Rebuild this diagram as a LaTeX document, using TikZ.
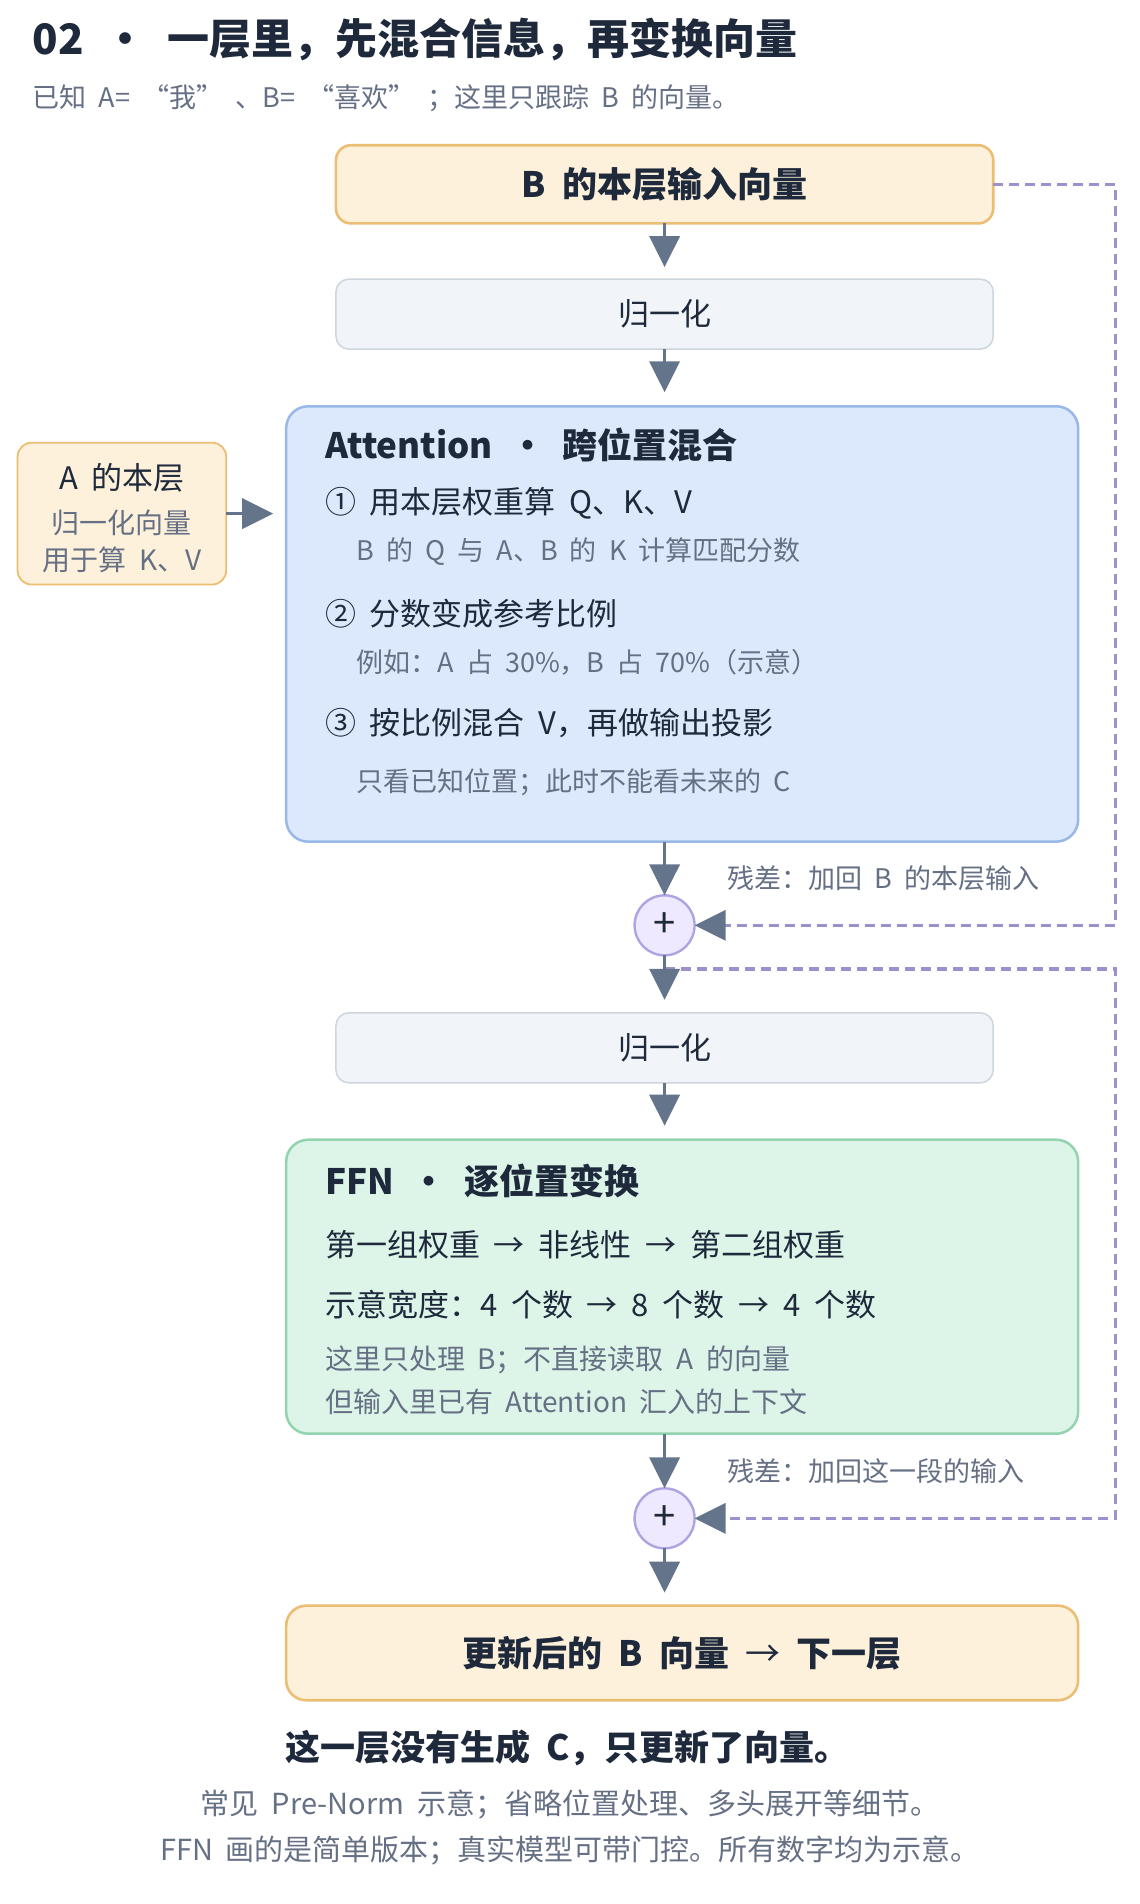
\documentclass[tikz,border=0pt]{standalone}
\usepackage{fontspec}
\setmainfont{Noto Sans CJK SC}[WordSpace=2]
\usetikzlibrary{arrows.meta,calc}
\definecolor{navy}{HTML}{1E293B}
\definecolor{grayc}{HTML}{667085}
\definecolor{arrowc}{HTML}{64748B}
\definecolor{ofill}{HTML}{FEF1DB}
\definecolor{oline}{HTML}{EBBE73}
\definecolor{nfill}{HTML}{F1F5F9}
\definecolor{nline}{HTML}{CDD5DF}
\definecolor{bfill}{HTML}{DCE9FC}
\definecolor{bline}{HTML}{99B8E8}
\definecolor{gfill}{HTML}{DDF5E8}
\definecolor{gline}{HTML}{94D3AF}
\definecolor{cfill}{HTML}{EEE9FE}
\definecolor{cline}{HTML}{AFA4E2}
\definecolor{dashc}{HTML}{9D90CB}
\begin{document}
\begin{tikzpicture}[x=1.212766pt,y=-1.212766pt,
  every node/.style={inner sep=0pt, outer sep=0pt},
  obox/.style={rectangle, draw=oline, fill=ofill, line width=2.6pt, rounded corners=15pt},
  nbox/.style={rectangle, draw=nline, fill=nfill, line width=1.5pt, rounded corners=13pt},
  attbox/.style={rectangle, draw=bline, fill=bfill, line width=2.5pt, rounded corners=22pt},
  ffnbox/.style={rectangle, draw=gline, fill=gfill, line width=2.5pt, rounded corners=22pt},
  plus/.style={circle, draw=cline, fill=cfill, line width=2.4pt, minimum size=60pt, font=\fontsize{40pt}{44pt}\selectfont, text=navy},
  flow/.style={draw=arrowc, line width=3.8pt, -{Triangle[length=31pt,width=30pt]}},
  resid/.style={draw=dashc, line width=3.3pt, dash pattern=on 10pt off 6pt, -{Triangle[length=31pt,width=30pt,color=arrowc]}},
  ttl/.style={font=\fontsize{42pt}{50pt}\selectfont\bfseries, text=navy},
  subt/.style={font=\fontsize{27pt}{32pt}\selectfont, text=grayc},
  head/.style={font=\fontsize{35pt}{42pt}\selectfont\bfseries, text=navy},
  item/.style={font=\fontsize{31pt}{37pt}\selectfont, text=navy},
  note/.style={font=\fontsize{27pt}{32pt}\selectfont, text=grayc},
  notel/.style={font=\fontsize{28pt}{33pt}\selectfont, text=grayc},
  foot/.style={font=\fontsize{29pt}{34pt}\selectfont, text=grayc}
]
\fill[white] (0,0) rectangle (940,1570);
\useasboundingbox (0,0) rectangle (940,1570);

% title
\node[ttl, anchor=west] (title) at (27,33) {02\hspace{0.5em}•\hspace{0.5em}一层里，先混合信息，再变换向量};
\node[subt, anchor=west] (subtitle) at (27,81) {已知 A= “我” 、B= “喜欢” ；这里只跟踪 B 的向量。};

% boxes
\node[obox, head, minimum width=657.3pt, minimum height=78.2pt] (box1) at (548,152) {B 的本层输入向量};
\node[nbox, item, minimum width=657.3pt, minimum height=70pt] (norm1) at (548,259) {归一化};
\node[attbox, minimum width=792pt, minimum height=435.4pt] (att) at (562.5,514.5) {};
\node[head, anchor=west] (atitle) at (268,367) {Attention\hspace{0.5em}•\hspace{0.5em}跨位置混合};
\node[item, anchor=west] (a1) at (268,415) {① 用本层权重算 Q、K、V};
\node[note, anchor=west] (a1s) at (294,455) {B 的 Q 与 A、B 的 K 计算匹配分数};
\node[item, anchor=west] (a2) at (268,506) {② 分数变成参考比例};
\node[note, anchor=west] (a2s) at (294,546) {例如：A 占 30\%，B 占 70\%（示意）};
\node[item, anchor=west] (a3) at (268,596) {③ 按比例混合 V，再做输出投影};
\node[note, anchor=west] (a3s) at (294,645) {只看已知位置；此时不能看未来的 C};

\node[obox, line width=1.8pt, rounded corners=14pt, minimum width=208.6pt, minimum height=141.9pt] (abox) at (100.5,423.5) {};
\node[item] (aL1) at (100.5,394) {A 的本层};
\node[notel] (aL2) at (100.5,431.5) {归一化向量};
\node[notel] (aL3) at (100.5,462) {用于算 K、V};

\node[plus] (plus1) at (548,763) {+};
\node[note, anchor=west] (lab1) at (600,724) {残差：加回 B 的本层输入};

\node[nbox, item, minimum width=657.3pt, minimum height=70pt] (norm2) at (548,864) {归一化};

\node[ffnbox, minimum width=792pt, minimum height=294pt] (ffn) at (562.5,1061) {};
\node[head, anchor=west] (ftitle) at (268,974) {FFN\hspace{0.5em}•\hspace{0.5em}逐位置变换};
\node[item, anchor=west] (f1) at (268,1026.6) {第一组权重 → 非线性 → 第二组权重};
\node[item, anchor=west] (f2) at (268,1076) {示意宽度：4 个数 → 8 个数 → 4 个数};
\node[notel, anchor=west] (f3) at (268,1121) {这里只处理 B；不直接读取 A 的向量};
\node[notel, anchor=west] (f4) at (268,1156) {但输入里已有 Attention 汇入的上下文};

\node[plus] (plus2) at (548,1252) {+};
\node[note, anchor=west] (lab2) at (600,1213.5) {残差：加回这一段的输入};

\node[obox, head, rounded corners=20pt, minimum width=792pt, minimum height=94.6pt] (final) at (562.5,1363) {更新后的 B 向量 {\mdseries →} 下一层};

\node[head] (concl) at (468,1441) {这一层没有生成 C，只更新了向量。};
\node[foot] (foot1) at (470,1488) {常见 Pre-Norm 示意；省略位置处理、多头展开等细节。};
\node[foot] (foot2) at (470,1526) {FFN 画的是简单版本；真实模型可带门控。所有数字均为示意。};

% connectors
\coordinate (rx) at (920,0);
\coordinate (res2) at (548,799);
\draw[resid] (box1.east) -- (box1.east -| rx) -- (rx |- plus1.east) -- (plus1.east);
\draw[resid] (res2) -- (res2 -| rx) -- (rx |- plus2.east) -- (plus2.east);

\draw[flow, shorten >=12pt] (box1.south) -- (norm1.north);
\draw[flow, shorten >=14pt] (norm1.south) -- (norm1.south |- att.north);
\draw[flow] (norm1.south |- att.south) -- (plus1.north);
\draw[flow, shorten >=13pt] (plus1.south) -- (norm2.north);
\draw[flow, shorten >=14pt] (norm2.south) -- (norm2.south |- ffn.north);
\draw[flow] (norm2.south |- ffn.south) -- (plus2.north);
\draw[flow, shorten >=13pt] (plus2.south) -- (plus2.south |- final.north);
\draw[flow, shorten >=13pt] (abox.east) -- (abox.east -| att.west);
\end{tikzpicture}
\end{document}
